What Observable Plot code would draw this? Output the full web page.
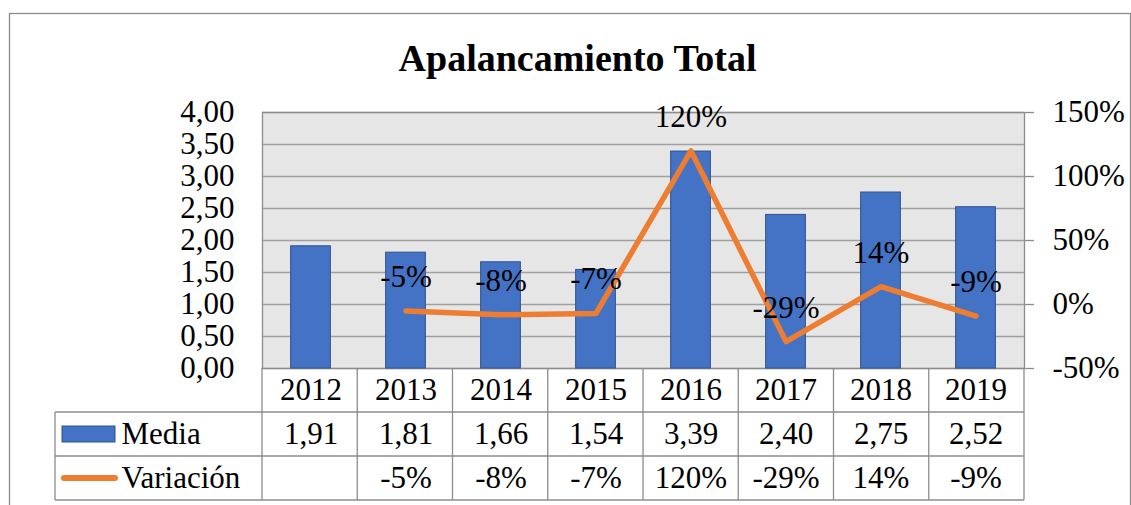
<!DOCTYPE html>
<html>
<head>
<meta charset="utf-8">
<script src="https://cdn.jsdelivr.net/npm/d3@7"></script>
<script src="https://cdn.jsdelivr.net/npm/@observablehq/plot@0.6"></script>
<style>
  html, body { margin: 0; padding: 0; background: #fff; }
  #chart svg { display: block; }
</style>
</head>
<body>
<div id="chart"></div>
<script>
const title = "Apalancamiento Total";
const years = ["2012", "2013", "2014", "2015", "2016", "2017", "2018", "2019"];
const media = [1.91, 1.81, 1.66, 1.54, 3.39, 2.40, 2.75, 2.52];
const variacion = [null, -5, -8, -7, 120, -29, 14, -9];
const leftTicks = [0, 0.5, 1, 1.5, 2, 2.5, 3, 3.5, 4];
const rightTicks = [-50, 0, 50, 100, 150];
const seriesNames = ["Media", "Variación"];

const W = 1131, H = 505;
const font = "Liberation Serif, Times New Roman, serif";
const blue = "#4472C4", blueEdge = "#2F528F", orange = "#ED7D31";
const gridColor = "#a0a0a0", lineColor = "#8c8c8c";

// right axis (%) mapped onto left axis units: -50% -> 0, 150% -> 4
const pctToY = v => (v + 50) / 50;
const yToPct = y => Math.round(y * 50 - 50);
const fmtMedia = v => d3.format(".2f")(v).replace(".", ",");
const fmtPct = v => v == null ? "" : v + "%";

const rows = years.map((y, i) => ({year: y, media: media[i], variacion: variacion[i]}));
const varRows = rows.filter(d => d.variacion != null);

const mL = 262, mR = 107, mT = 112, mB = 137;
const rowH = 44;
const bandW = (W - mL - mR) / years.length;
const barW = 40;
const inset = (bandW - barW) / 2;
const txt = {fontSize: 31, fontFamily: font, fill: "#000"};

const plot = Plot.plot({
  width: W,
  height: H,
  marginLeft: mL,
  marginRight: mR,
  marginTop: mT,
  marginBottom: mB,
  style: {fontFamily: font, fontSize: "31px", color: "#000", background: "#fff", overflow: "visible"},
  x: {type: "band", domain: years, padding: 0, axis: null},
  y: {domain: [0, 4], axis: null},
  marks: [
    Plot.frame({fill: "#E7E6E6", stroke: null}),
    Plot.gridY(leftTicks, {stroke: gridColor, strokeOpacity: 1, strokeWidth: 1.3}),
    Plot.frame({stroke: lineColor, strokeWidth: 1.3}),
    Plot.axisY({
      anchor: "left", ticks: leftTicks, tickSize: 0, tickPadding: 28,
      tickFormat: fmtMedia, fontSize: 31, fontFamily: font, label: null
    }),
    Plot.axisY({
      anchor: "right", ticks: rightTicks.map(pctToY), tickSize: 9, tickPadding: 19,
      tickFormat: d => yToPct(d) + "%", fontSize: 31, fontFamily: font, label: null,
      stroke: lineColor, strokeWidth: 1.3
    }),
    Plot.barY(rows, {
      x: "year", y: "media", fill: blue, stroke: blueEdge, strokeWidth: 1,
      insetLeft: inset, insetRight: inset
    }),
    Plot.line(varRows, {
      x: "year", y: d => pctToY(d.variacion), stroke: orange, strokeWidth: 5.5,
      strokeLinejoin: "round", strokeLinecap: "round"
    }),
    Plot.text(varRows, {
      x: "year", y: d => pctToY(d.variacion), text: d => fmtPct(d.variacion),
      dy: -34, ...txt
    }),
    // title
    Plot.text([title], {
      frameAnchor: "top", dx: 577 - (mL + (W - mR)) / 2, dy: 70 - mT,
      lineAnchor: "bottom", text: d => d, ...txt, fontSize: 38, fontWeight: "bold"
    }),
    // data table rows
    Plot.text(rows, {x: "year", text: "year", frameAnchor: "bottom", lineAnchor: "middle", dy: rowH / 2, ...txt}),
    Plot.text(rows, {x: "year", text: d => fmtMedia(d.media), frameAnchor: "bottom", lineAnchor: "middle", dy: rowH * 1.5, ...txt}),
    Plot.text(rows, {x: "year", text: d => fmtPct(d.variacion), frameAnchor: "bottom", lineAnchor: "middle", dy: rowH * 2.5, ...txt}),
    Plot.text([seriesNames[0]], {text: d => d, frameAnchor: "bottom-left", lineAnchor: "middle", dx: 121 - mL, dy: rowH * 1.5, textAnchor: "start", ...txt}),
    Plot.text([seriesNames[1]], {text: d => d, frameAnchor: "bottom-left", lineAnchor: "middle", dx: 121 - mL, dy: rowH * 2.5, textAnchor: "start", ...txt})
  ]
});

// table grid lines, legend keys and outer border
const svg = d3.select(plot);
const xs = plot.scale("x");
const [r0, r1] = xs.range;
const n = xs.domain.length;
const step = (r1 - r0) / n;
const bottom = H - mB;
const tableLeft = 55;
const g = svg.append("g").attr("stroke", lineColor).attr("stroke-width", 1.3).attr("fill", "none");
for (let i = 0; i <= n; i++) {
  const x = r0 + i * step;
  g.append("line").attr("x1", x).attr("x2", x).attr("y1", bottom).attr("y2", bottom + rowH * 3);
}
g.append("line").attr("x1", tableLeft).attr("x2", tableLeft).attr("y1", bottom + rowH).attr("y2", bottom + rowH * 3);
for (let j = 1; j <= 3; j++) {
  g.append("line").attr("x1", tableLeft).attr("x2", r1).attr("y1", bottom + rowH * j).attr("y2", bottom + rowH * j);
}
// legend keys
svg.append("rect").attr("x", 62).attr("y", bottom + rowH * 1.5 - 8).attr("width", 53).attr("height", 16)
  .attr("fill", blue).attr("stroke", blueEdge).attr("stroke-width", 1);
svg.append("line").attr("x1", 64).attr("x2", 115).attr("y1", bottom + rowH * 2.5).attr("y2", bottom + rowH * 2.5)
  .attr("stroke", orange).attr("stroke-width", 6).attr("stroke-linecap", "round");
// outer chart border
svg.append("rect").attr("x", 9.5).attr("y", 13.5).attr("width", W - 10).attr("height", H)
  .attr("fill", "none").attr("stroke", lineColor).attr("stroke-width", 1.3);

document.getElementById("chart").appendChild(plot);
</script>
</body>
</html>
